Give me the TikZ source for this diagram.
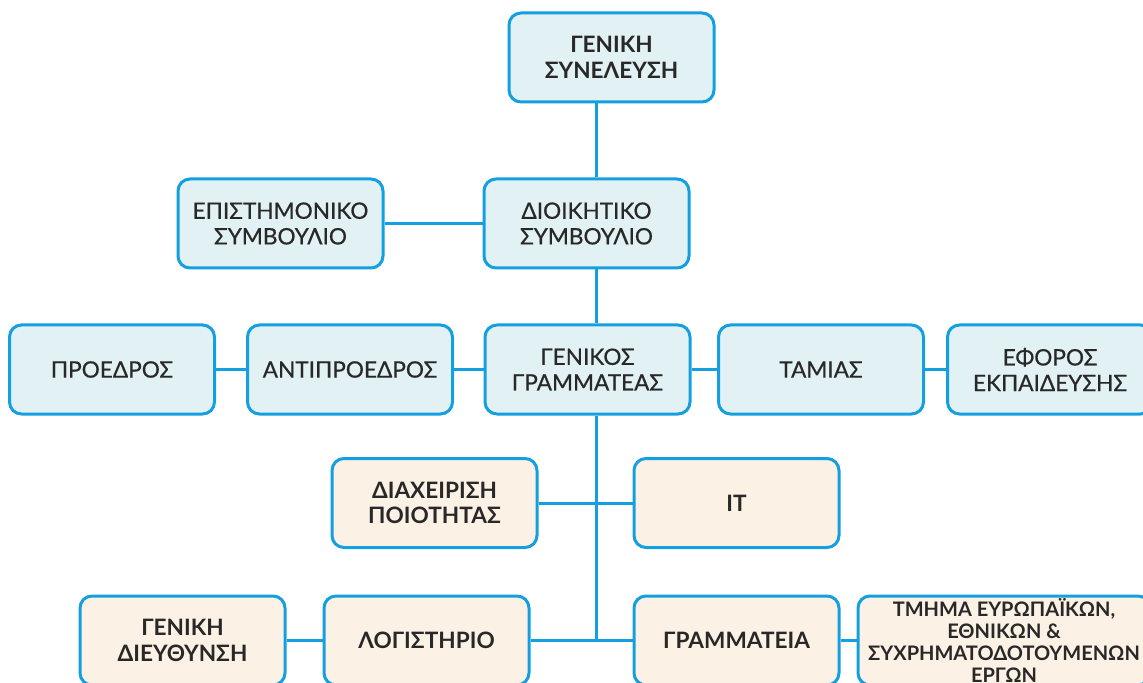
\documentclass[tikz,border=0pt]{standalone}
\usepackage{fontspec}
\setmainfont{Lato}
\newfontfamily\medfont{Lato}[FakeBold=0.6]
\usepackage{tikz}

\definecolor{linkblue}{RGB}{20,160,224}
\definecolor{boardfill}{RGB}{226,241,243}
\definecolor{deptfill}{RGB}{252,241,229}
\definecolor{inkgray}{RGB}{40,40,40}

\begin{document}
\begin{tikzpicture}[
	x = 0.5pt, y = -0.5pt,
	box/.style = {draw=linkblue, line width=1.5pt, rounded corners=6pt,
		minimum width=102.5pt, minimum height=44.5pt, align=center,
		text=inkgray, inner sep=2pt},
	board/.style = {box, fill=boardfill,
		font=\fontsize{11.3}{12.8}\selectfont\medfont},
	head/.style = {box, fill=boardfill,
		font=\fontsize{11.3}{12.8}\selectfont\bfseries},
	dept/.style = {box, fill=deptfill,
		font=\fontsize{11.3}{12.8}\selectfont\bfseries},
	link/.style = {draw=linkblue, line width=1.5pt}
	]
	\useasboundingbox (0,0) rectangle (1143,683);
	\coordinate (trunk) at (596,0);

	% top levels
	\node [head] (synel) at (611.5,57.5) {ΓΕΝΙΚΗ\\ΣΥΝΕΛΕΥΣΗ};
	\node [board] (episth) at (280.5,223.5) {ΕΠΙΣΤΗΜΟΝΙΚΟ\\ΣΥΜΒΟΥΛΙΟ};
	\node [board] (dioik) at (586.5,223.5) {ΔΙΟΙΚΗΤΙΚΟ\\ΣΥΜΒΟΥΛΙΟ};

	% board members
	\node [board] (proedr) at (112,369.5) {ΠΡΟΕΔΡΟΣ};
	\node [board] (antipr) at (350,369.5) {ΑΝΤΙΠΡΟΕΔΡΟΣ};
	\node [board] (gramm) at (587.5,369.5) {ΓΕΝΙΚΟΣ\\ΓΡΑΜΜΑΤΕΑΣ};
	\node [board] (tamias) at (821,369.5) {ΤΑΜΙΑΣ};
	\node [board] (eforos) at (1050,369.5) {ΕΦΟΡΟΣ\\ΕΚΠΑΙΔΕΥΣΗΣ};

	% departments
	\node [dept] (poiot) at (434.5,503) {ΔΙΑΧΕΙΡΙΣΗ\\ΠΟΙΟΤΗΤΑΣ};
	\node [dept] (it) at (736.5,503) {IT};
	\node [dept] (dieyth) at (182.5,640.5) {ΓΕΝΙΚΗ\\ΔΙΕΥΘΥΝΣΗ};
	\node [dept] (logist) at (426.5,640.5) {ΛΟΓΙΣΤΗΡΙΟ};
	\node [dept] (grammat) at (736.5,640.5) {ΓΡΑΜΜΑΤΕΙΑ};
	\node [dept, minimum width=146pt, inner sep=1pt,
		font=\fontsize{10}{11}\selectfont\bfseries] (ergon) at (1004,640.5)
		{ΤΜΗΜΑ ΕΥΡΩΠΑΪΚΩΝ,\\ΕΘΝΙΚΩΝ \&\\ΣΥΧΡΗΜΑΤΟΔΟΤΟΥΜΕΝΩΝ\\ΕΡΓΩΝ};

	% connectors
	\draw [link] (synel.south -| trunk) -- (dioik.north -| trunk);
	\draw [link] (dioik.south -| trunk) -- (gramm.north -| trunk);
	\draw [link] (gramm.south -| trunk) -- (trunk |- logist.east);
	\draw [link] (episth) -- (dioik);
	\draw [link] (proedr) -- (antipr);
	\draw [link] (antipr) -- (gramm);
	\draw [link] (gramm) -- (tamias);
	\draw [link] (tamias) -- (eforos);
	\draw [link] (poiot) -- (it);
	\draw [link] (dieyth) -- (logist);
	\draw [link] (logist) -- (grammat);
	\draw [link] (grammat) -- (ergon);
\end{tikzpicture}
\end{document}
